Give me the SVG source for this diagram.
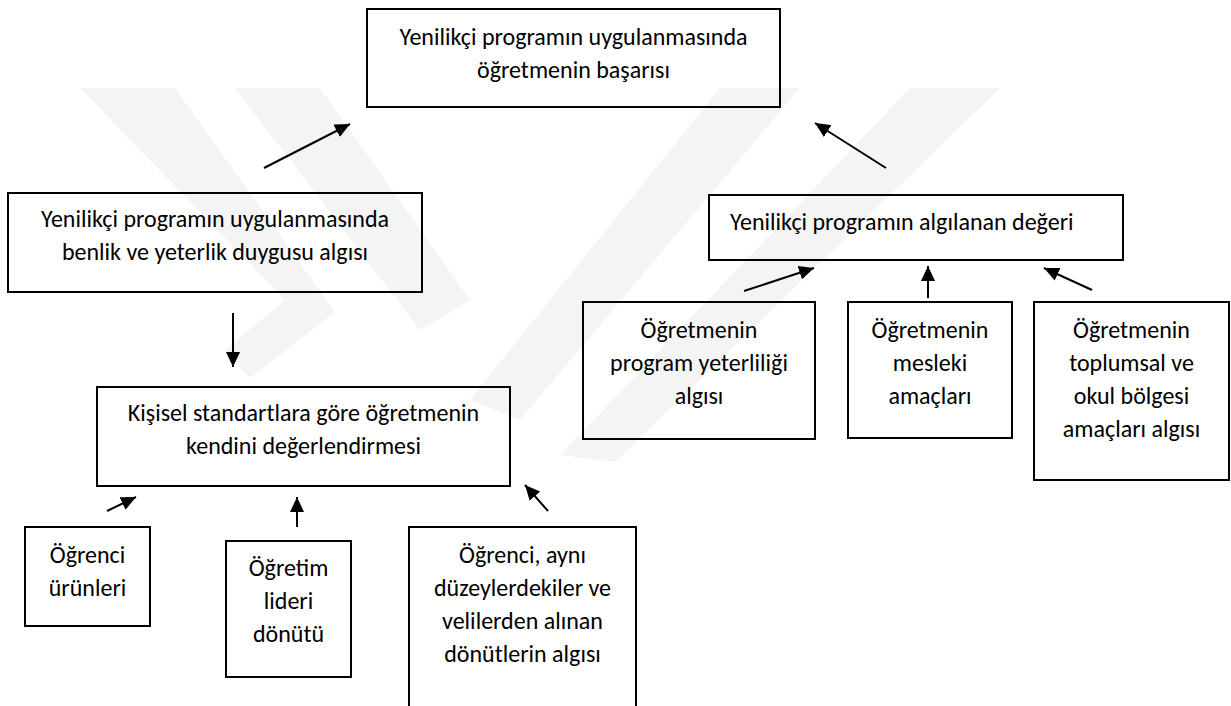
<svg xmlns="http://www.w3.org/2000/svg" width="1231" height="706" viewBox="0 0 1231 706">
<defs>
<style>
.box{fill:none;stroke:#000;stroke-width:2}
.t{font-family:Carlito,Lato,"Liberation Sans",sans-serif;font-size:24px;fill:#000;text-anchor:middle}
.ts{text-anchor:start}
.c{stroke:#000;stroke-width:2;fill:none;marker-end:url(#ah)}
.wm{fill:#f4f4f4}
</style>
<marker id="ah" markerUnits="userSpaceOnUse" markerWidth="16" markerHeight="14" refX="15" refY="7" orient="auto">
<path d="M0,0 L15,7 L0,14 z" fill="#000"/>
</marker>
</defs>
<rect width="1231" height="706" fill="#fff"/>
<g id="watermark">
<polygon class="wm" points="80,88 175,88 335,312 250,378 225,350 285,300"/>
<polygon class="wm" points="235,88 320,88 470,300 420,330"/>
<polygon class="wm" points="1000,88 910,88 560,455 615,462"/>
<polygon class="wm" points="800,88 720,88 470,400 520,420"/>
</g>
<g id="connectors">
<line class="c" x1="264" y1="168" x2="350" y2="124"/>
<line class="c" x1="886" y1="168" x2="815" y2="123"/>
<line class="c" x1="744" y1="291" x2="814" y2="268"/>
<line class="c" x1="928" y1="298" x2="928" y2="266"/>
<line class="c" x1="1092" y1="290" x2="1044" y2="268"/>
<line class="c" x1="233" y1="313" x2="233" y2="367"/>
<line class="c" x1="107" y1="511" x2="136" y2="497"/>
<line class="c" x1="297" y1="527" x2="297" y2="497"/>
<line class="c" x1="548" y1="511" x2="525" y2="485"/>
</g>
<g id="n-top">
<rect class="box" x="367" y="9" width="413" height="98"/>
<text class="t" x="573.5" y="45">Yenilikçi programın uygulanmasında</text>
<text class="t" x="573.5" y="78">öğretmenin başarısı</text>
</g>
<g id="n-benlik">
<rect class="box" x="8" y="193" width="414" height="99"/>
<text class="t" x="215" y="227">Yenilikçi programın uygulanmasında</text>
<text class="t" x="215" y="260">benlik ve yeterlik duygusu algısı</text>
</g>
<g id="n-deger">
<rect class="box" x="709" y="195" width="414" height="65"/>
<text class="t ts" x="730" y="230">Yenilikçi programın algılanan değeri</text>
</g>
<g id="n-yeterlilik">
<rect class="box" x="583" y="302" width="232" height="137"/>
<text class="t" x="699" y="338">Öğretmenin</text>
<text class="t" x="699" y="371">program yeterliliği</text>
<text class="t" x="699" y="404">algısı</text>
</g>
<g id="n-mesleki">
<rect class="box" x="848" y="302" width="164" height="136"/>
<text class="t" x="930" y="338">Öğretmenin</text>
<text class="t" x="930" y="371">mesleki</text>
<text class="t" x="930" y="404">amaçları</text>
</g>
<g id="n-toplumsal">
<rect class="box" x="1034" y="302" width="195" height="178"/>
<text class="t" x="1131.5" y="338">Öğretmenin</text>
<text class="t" x="1131.5" y="371">toplumsal ve</text>
<text class="t" x="1131.5" y="404">okul bölgesi</text>
<text class="t" x="1131.5" y="437">amaçları algısı</text>
</g>
<g id="n-kisisel">
<rect class="box" x="97" y="387" width="413" height="99"/>
<text class="t" x="303.5" y="421">Kişisel standartlara göre öğretmenin</text>
<text class="t" x="303.5" y="454">kendini değerlendirmesi</text>
</g>
<g id="n-urunler">
<rect class="box" x="25" y="527" width="125" height="99"/>
<text class="t" x="87.5" y="563">Öğrenci</text>
<text class="t" x="87.5" y="596">ürünleri</text>
</g>
<g id="n-lider">
<rect class="box" x="226" y="541" width="125" height="136"/>
<text class="t" x="288.5" y="576">Öğretim</text>
<text class="t" x="288.5" y="609">lideri</text>
<text class="t" x="288.5" y="642">dönütü</text>
</g>
<g id="n-donut">
<rect class="box" x="409" y="527" width="227" height="200"/>
<text class="t" x="522.5" y="563">Öğrenci, aynı</text>
<text class="t" x="522.5" y="596">düzeylerdekiler ve</text>
<text class="t" x="522.5" y="629">velilerden alınan</text>
<text class="t" x="522.5" y="662">dönütlerin algısı</text>
</g>
</svg>
